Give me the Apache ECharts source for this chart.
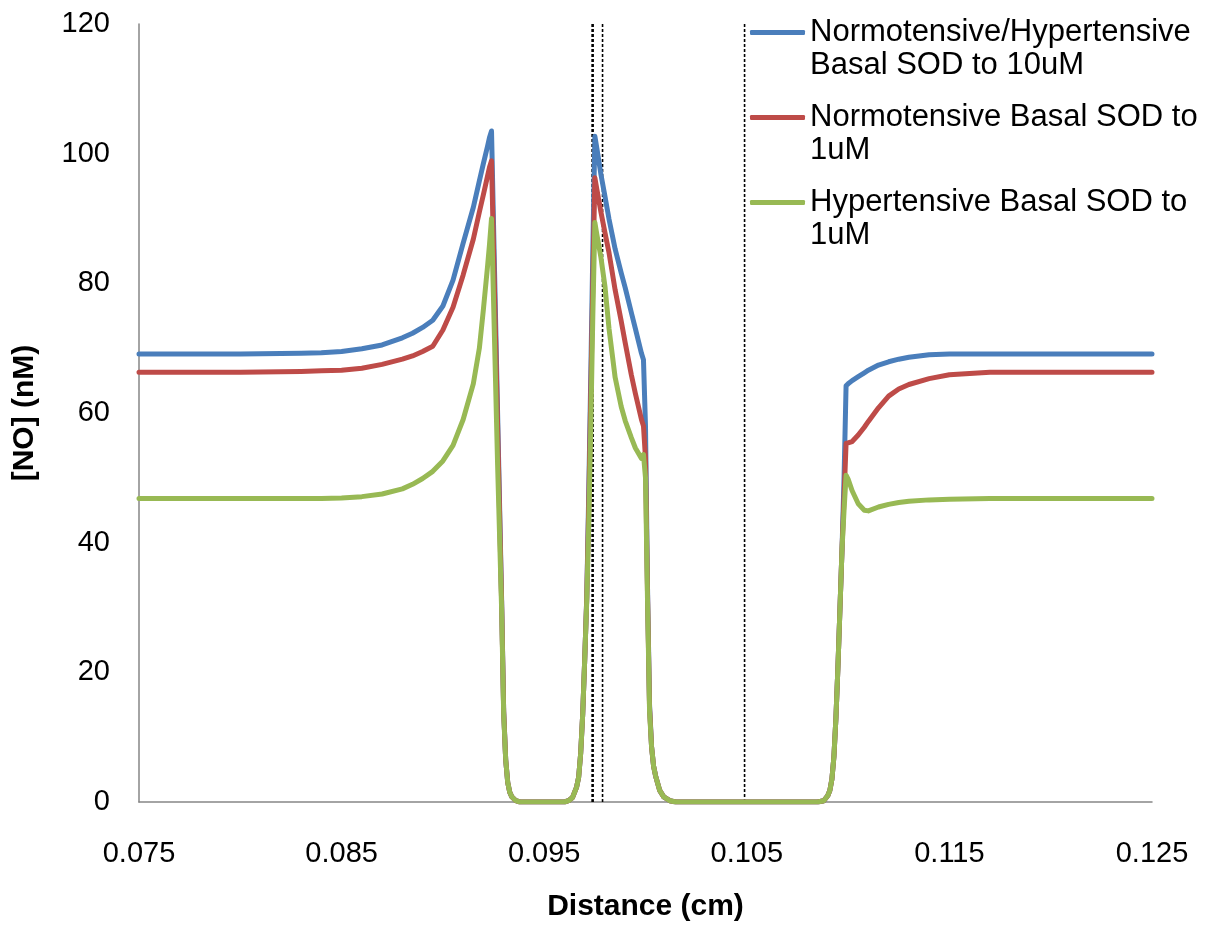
<!DOCTYPE html>
<html>
<head>
<meta charset="utf-8">
<script src="https://cdn.jsdelivr.net/npm/echarts@6/dist/echarts.min.js"></script>
<style>
html,body{margin:0;padding:0;background:#fff;}
#chart{width:1210px;height:927px;}
</style>
</head>
<body>
<div id="chart"></div>
<script>
// Distance (cm)
const distance = [
  0.075, 0.080, 0.083, 0.084, 0.085, 0.086, 0.087, 0.088, 0.0885, 0.089,
  0.0895, 0.090, 0.0905, 0.091, 0.0915, 0.0918, 0.092, 0.0922, 0.0923, 0.0924,
  0.0927, 0.0929, 0.0930, 0.0931, 0.0932, 0.0933, 0.0934, 0.0936, 0.0938, 0.0960,
  0.0962, 0.0964, 0.0966, 0.0967, 0.0968, 0.0969, 0.0970, 0.0971, 0.0972, 0.0973,
  0.0974, 0.0975, 0.0976, 0.0978, 0.0980, 0.0982, 0.0985, 0.0988, 0.0990, 0.0993,
  0.0995, 0.0998, 0.0999, 0.1000, 0.1001, 0.1002, 0.1003, 0.1004, 0.1005, 0.1007,
  0.1009, 0.1012, 0.1015, 0.1085, 0.1088, 0.1090, 0.1091, 0.1092, 0.1093, 0.1094,
  0.1095, 0.1096, 0.1097, 0.1098, 0.1099, 0.1100, 0.1102, 0.1105, 0.1108, 0.1110,
  0.1115, 0.1120, 0.1125, 0.1130, 0.1140, 0.1150, 0.1170, 0.1200, 0.1250
];

// [NO] (nM) – Normotensive/Hypertensive Basal SOD to 10uM
const noSod10 = [
  69.1, 69.1, 69.2, 69.3, 69.5, 69.9, 70.5, 71.6, 72.3, 73.2,
  74.3, 76.5, 80.5, 86.2, 91.7, 95.8, 98.5, 101.1, 102.5, 103.5,
  60, 31, 14, 6.5, 3, 1.5, 0.8, 0.2, 0, 0,
  0.2, 0.7, 2.3, 3.8, 7.5, 13.5, 22, 31.5, 48, 66,
  85, 102.7, 100.8, 96.8, 93.4, 89.9, 85.3, 81.6, 79.3, 75.5,
  73.0, 69.2, 68.2, 58, 33, 15, 8.5, 5.5, 4, 1.8,
  0.8, 0.2, 0, 0, 0.2, 1, 1.8, 3.5, 7, 13,
  21, 30, 39, 50, 64.2, 64.5, 65.0, 65.6, 66.2, 66.6,
  67.4, 67.9, 68.3, 68.6, 69.0, 69.1, 69.1, 69.1, 69.1
];

// [NO] (nM) – Normotensive Basal SOD to 1uM
const noNormo1 = [
  66.3, 66.3, 66.4, 66.5, 66.6, 66.9, 67.5, 68.3, 68.8, 69.5,
  70.3, 72.8, 76.3, 81.3, 86.8, 91.0, 93.7, 96.5, 97.9, 98.9,
  58, 30.5, 14, 6.5, 3, 1.5, 0.8, 0.2, 0, 0,
  0.2, 0.7, 2.3, 3.8, 7.5, 13.5, 22, 31.5, 46, 63,
  80, 96.3, 94.5, 91.0, 87.8, 84.7, 79.0, 74.2, 70.8, 65.9,
  63.0, 59.0, 58.0, 53, 32, 14.5, 8.5, 5.5, 4, 1.8,
  0.8, 0.2, 0, 0, 0.2, 1, 1.8, 3.5, 7, 13,
  21, 30, 39, 47, 55.3, 55.4, 55.6, 56.6, 57.8, 58.7,
  60.8, 62.6, 63.7, 64.4, 65.3, 65.9, 66.3, 66.3, 66.3
];

// [NO] (nM) – Hypertensive Basal SOD to 1uM
const noHyper1 = [
  46.8, 46.8, 46.8, 46.8, 46.9, 47.1, 47.5, 48.3, 49.0, 49.9,
  51.0, 52.6, 55.0, 59.0, 64.5, 70.0, 76.0, 82.5, 86.0, 90.0,
  52, 29.5, 13.5, 6.5, 3, 1.5, 0.8, 0.2, 0, 0,
  0.2, 0.7, 2.3, 3.8, 7.5, 13.5, 22, 31, 43, 58,
  75, 89.4, 87.5, 84.0, 79.5, 73.0, 65.5, 61.0, 58.8, 56.2,
  54.6, 53.0, 53.6, 50, 31, 14, 8.5, 5.5, 4, 1.8,
  0.8, 0.2, 0, 0, 0.2, 1, 1.8, 3.5, 7, 13,
  21, 30, 39, 45, 50.4, 49.8, 48.0, 46.0, 45.0, 44.9,
  45.5, 45.9, 46.2, 46.4, 46.6, 46.7, 46.8, 46.8, 46.8
];

const seriesNames = [
  'Normotensive/Hypertensive Basal SOD to 10uM',
  'Normotensive Basal SOD to 1uM',
  'Hypertensive Basal SOD to 1uM'
];
const legendLabels = [
  'Normotensive/Hypertensive\nBasal SOD to 10uM',
  'Normotensive Basal SOD to\n1uM',
  'Hypertensive Basal SOD to\n1uM'
];
const seriesColors = ['#4A7EBB', '#BE4B48', '#98B954'];
const seriesValues = [noSod10, noNormo1, noHyper1];

// vertical dashed boundary markers (cm), drawn from y = 0 to y = 120
const boundaryX = [0.09739, 0.09788, 0.10489];
const boundaryWidth = [2.6, 1.6, 1.6];
const boundaryRange = [0, 120];

const xTickLabels = ['0.075', '0.085', '0.095', '0.105', '0.115', '0.125'];

const FONT = "'Liberation Sans', Arial, sans-serif";

const chart = echarts.init(document.getElementById('chart'), null, {renderer: 'canvas'});

const series = [];
boundaryX.forEach((x, i) => {
  series.push({
    name: 'boundary' + i,
    type: 'line',
    symbol: 'none',
    silent: true,
    data: boundaryRange.map(y => [x, y]),
    lineStyle: {color: '#000', width: boundaryWidth[i], type: [3, 2]},
    z: 2
  });
});
seriesNames.forEach((name, s) => {
  series.push({
    name: name,
    type: 'line',
    symbol: 'none',
    showSymbol: false,
    smooth: false,
    data: distance.map((x, i) => [x, seriesValues[s][i]]),
    lineStyle: {color: seriesColors[s], width: 5, join: 'round', cap: 'round'},
    itemStyle: {color: seriesColors[s]},
    z: 3 + s
  });
});

chart.setOption({
  animation: false,
  backgroundColor: '#fff',
  textStyle: {fontFamily: FONT},
  grid: {left: 139, right: 58, top: 24, bottom: 119, containLabel: false},
  legend: {
    orient: 'vertical',
    left: 750,
    top: -17,
    padding: 0,
    itemWidth: 55,
    itemHeight: 5,
    itemGap: -14,
    icon: 'roundRect',
    data: seriesNames.map((n, s) => ({name: n, icon: 'roundRect', itemStyle: {color: seriesColors[s]}})),
    formatter: name => '\u00a0\n' + legendLabels[seriesNames.indexOf(name)],
    textStyle: {
      fontFamily: FONT,
      fontSize: 31,
      lineHeight: 33,
      color: '#000'
    }
  },
  xAxis: {
    type: 'value',
    min: 0.075,
    max: 0.125,
    interval: 0.005,
    name: 'Distance (cm)',
    nameLocation: 'middle',
    nameGap: 90,
    nameTextStyle: {fontFamily: FONT, fontSize: 30, fontWeight: 'bold', color: '#000'},
    axisLine: {show: true, onZero: false, lineStyle: {color: '#868686', width: 1.5}},
    axisTick: {show: false},
    splitLine: {show: false},
    axisLabel: {
      fontFamily: FONT,
      fontSize: 29,
      color: '#000',
      margin: 37,
      formatter: v => {
        const s = v.toFixed(3);
        return xTickLabels.indexOf(s) >= 0 ? s : '';
      }
    }
  },
  yAxis: {
    type: 'value',
    min: 0,
    max: 120,
    interval: 20,
    name: '[NO] (nM)',
    nameLocation: 'middle',
    nameGap: 99,
    nameTextStyle: {fontFamily: FONT, fontSize: 30, fontWeight: 'bold', color: '#000'},
    axisLine: {show: true, lineStyle: {color: '#868686', width: 1.5}},
    axisTick: {show: false},
    splitLine: {show: false},
    axisLabel: {fontFamily: FONT, fontSize: 29, color: '#000', margin: 29}
  },
  series: series
});
</script>
</body>
</html>
